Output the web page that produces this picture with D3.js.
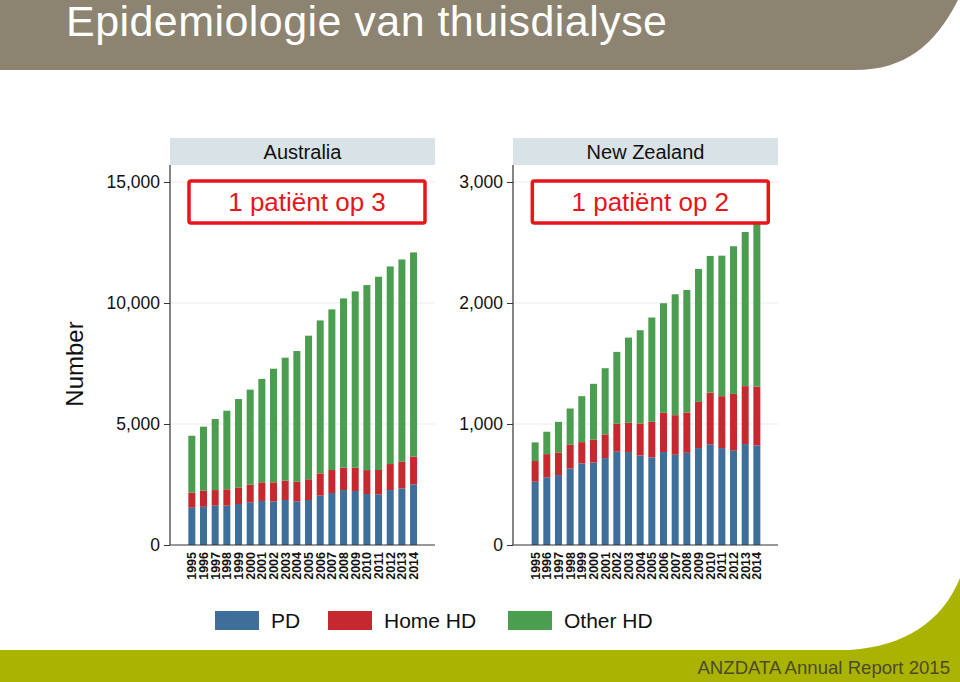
<!DOCTYPE html>
<html>
<head>
<meta charset="utf-8">
<script src="https://cdn.jsdelivr.net/npm/d3@7"></script>
<style>
  body { margin: 0; background: #fff; }
  svg { display: block; font-family: "Liberation Sans", Arial, sans-serif; }
</style>
</head>
<body>
<div id="container"></div>
<script>
// data
const years = d3.range(1995, 2015).map(String);
const seriesNames = ['PD', 'Home HD', 'Other HD'];
const colors = ['#3e6f9b', '#c6282f', '#4b9d4f'];

const auPD      = [1540, 1580, 1625, 1625, 1695, 1765, 1820, 1805, 1860, 1805, 1860, 2040, 2150, 2270, 2230, 2105, 2095, 2270, 2340, 2505];
const auHomeHD  = [620, 665, 645, 675, 685, 730, 770, 785, 800, 810, 855, 920, 950, 925, 965, 990, 1005, 1075, 1100, 1145];
const auOtherHD = [2355, 2645, 2935, 3250, 3650, 3925, 4270, 4695, 5080, 5400, 5935, 6320, 6635, 6995, 7285, 7645, 7985, 8165, 8360, 8440];

const nzPD      = [523, 559, 578, 633, 674, 682, 718, 771, 768, 740, 724, 768, 746, 762, 801, 831, 801, 779, 834, 823];
const nzHomeHD  = [171, 192, 187, 198, 176, 188, 196, 231, 242, 264, 294, 325, 327, 333, 382, 429, 429, 470, 479, 487];
const nzOtherHD = [154, 185, 253, 297, 380, 462, 547, 594, 704, 771, 862, 905, 999, 1013, 1098, 1129, 1161, 1220, 1274, 1370];

const auTicks = [0, 5000, 10000, 15000];
const nzTicks = [0, 1000, 2000, 3000];

const width = 960, height = 682;

const svg = d3.select('#container')
  .append('svg')
  .attr('width', width)
  .attr('height', height);

// slide decoration: title band and footer band
svg.append('path')
  .attr('d', 'M0,0 L958,0 C935,45 905,70 855,70 L0,70 Z')
  .attr('fill', '#8c8371');
svg.append('text')
  .attr('x', 66).attr('y', 36)
  .attr('fill', '#fff')
  .attr('font-size', 43)
  .attr('textLength', 601)
  .text('Epidemiologie van thuisdialyse');

svg.append('path')
  .attr('d', 'M0,650 L850,650 C905,646 942,622 960,578 L960,682 L0,682 Z')
  .attr('fill', '#a9b300');
svg.append('text')
  .attr('x', 950).attr('y', 674)
  .attr('text-anchor', 'end')
  .attr('fill', '#4d4a2a')
  .attr('font-size', 18.6)
  .text('ANZDATA Annual Report 2015');

// y axis title
svg.append('text')
  .attr('transform', 'translate(83,364) rotate(-90)')
  .attr('text-anchor', 'middle')
  .attr('font-size', 24)
  .attr('fill', '#111')
  .text('Number');

function panel({name, left, right, bandRange, ticks, pd, home, other, note}) {
  const top = 165, bottom = 545;
  const g = svg.append('g');

  const x = d3.scaleBand()
    .domain(years)
    .range(bandRange)
    .paddingInner(0.4)
    .paddingOuter(0.2);
  const y = d3.scaleLinear()
    .domain([0, ticks[ticks.length - 1]])
    .range([bottom, 182]);

  const rows = years.map((yr, i) => ({year: yr, 'PD': pd[i], 'Home HD': home[i], 'Other HD': other[i]}));
  const stacked = d3.stack().keys(seriesNames)(rows);

  // strip header
  g.append('rect')
    .attr('x', left).attr('y', 138)
    .attr('width', right - left).attr('height', 27)
    .attr('fill', '#d9e2e6');
  g.append('text')
    .attr('x', (left + right) / 2).attr('y', 159)
    .attr('text-anchor', 'middle')
    .attr('font-size', 20)
    .attr('fill', '#111')
    .text(name);

  // grid
  g.selectAll('.grid')
    .data(ticks.slice(1))
    .enter()
    .append('line')
    .attr('x1', left).attr('x2', right)
    .attr('y1', d => y(d)).attr('y2', d => y(d))
    .attr('stroke', '#e9ecec')
    .attr('stroke-width', 1);

  // bars
  g.selectAll('.layer')
    .data(stacked)
    .enter()
    .append('g')
    .attr('fill', (d, i) => colors[i])
    .selectAll('rect')
    .data(d => d)
    .enter()
    .append('rect')
    .attr('x', d => x(d.data.year))
    .attr('width', x.bandwidth())
    .attr('y', d => y(d[1]))
    .attr('height', d => y(d[0]) - y(d[1]));

  // y axis
  const yAxis = g.append('g')
    .attr('transform', `translate(${left},0)`)
    .call(d3.axisLeft(y).tickValues(ticks).tickFormat(d3.format(',')).tickSize(6).tickPadding(4));
  yAxis.select('.domain').remove();
  yAxis.selectAll('text').attr('font-size', 17.5).attr('fill', '#111').attr('font-family', 'Liberation Sans, Arial, sans-serif');
  yAxis.selectAll('line').attr('stroke', '#333');
  g.append('line')
    .attr('x1', left).attr('x2', left)
    .attr('y1', top).attr('y2', bottom)
    .attr('stroke', '#333').attr('stroke-width', 1.2);

  // x axis
  const xAxis = g.append('g')
    .attr('transform', `translate(0,${bottom})`)
    .call(d3.axisBottom(x).tickSize(0).tickPadding(0));
  xAxis.select('.domain').remove();
  xAxis.selectAll('text')
    .attr('transform', 'rotate(-90)')
    .attr('x', -7).attr('y', 0)
    .attr('dy', '0.36em')
    .attr('text-anchor', 'end')
    .attr('font-size', 12.5)
    .attr('font-weight', 'bold')
    .attr('fill', '#111')
    .attr('font-family', 'Liberation Sans, Arial, sans-serif');
  g.append('line')
    .attr('x1', left).attr('x2', right)
    .attr('y1', bottom).attr('y2', bottom)
    .attr('stroke', '#333').attr('stroke-width', 1.2);

  // highlight box
  const bx = bandRange[0] + 3, bw = 236;
  g.append('rect')
    .attr('x', bx).attr('y', 181)
    .attr('width', bw).attr('height', 42)
    .attr('rx', 2)
    .attr('fill', '#fff')
    .attr('stroke', '#e8151b')
    .attr('stroke-width', 3.5);
  g.append('text')
    .attr('x', bx + bw / 2).attr('y', 211)
    .attr('text-anchor', 'middle')
    .attr('font-size', 26)
    .attr('fill', '#e8151b')
    .text(note);
}

panel({name: 'Australia', left: 170, right: 435, bandRange: [186, 419.4], ticks: auTicks,
       pd: auPD, home: auHomeHD, other: auOtherHD, note: '1 patiënt op 3'});
panel({name: 'New Zealand', left: 513, right: 778, bandRange: [529.3, 762.7], ticks: nzTicks,
       pd: nzPD, home: nzHomeHD, other: nzOtherHD, note: '1 patiënt op 2'});

// legend
const legend = svg.append('g');
const legendX = [215, 328, 508];
seriesNames.forEach((s, i) => {
  legend.append('rect')
    .attr('x', legendX[i]).attr('y', 611)
    .attr('width', 44).attr('height', 19)
    .attr('fill', colors[i]);
  legend.append('text')
    .attr('x', legendX[i] + 56).attr('y', 628)
    .attr('font-size', 21)
    .attr('fill', '#111')
    .text(s);
});
</script>
</body>
</html>
